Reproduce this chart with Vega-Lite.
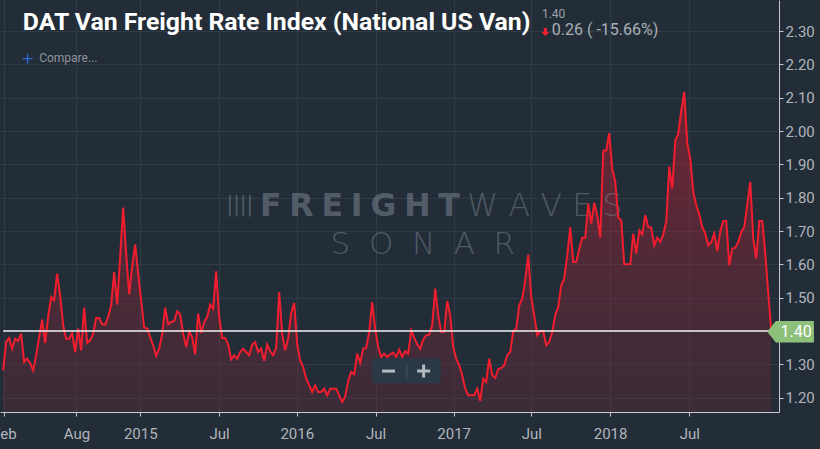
{
  "$schema": "https://vega.github.io/schema/vega-lite/v6.json",
  "autosize": {"type": "none"},
  "padding": {"left": 0, "top": 0, "right": 41, "bottom": 37},
  "width": 779,
  "height": 412,
  "background": "#232d38",
  "config": {"view": {"stroke": null}},
  "datasets": {
    "rates": [
      {"date":"2014-02-15","rate":1.282},{"date":"2014-02-22","rate":1.367},{"date":"2014-03-01","rate":1.379},{"date":"2014-03-08","rate":1.347},{"date":"2014-03-15","rate":1.377},{"date":"2014-03-22","rate":1.370},{"date":"2014-03-29","rate":1.392},{"date":"2014-04-05","rate":1.307},{"date":"2014-04-12","rate":1.317},{"date":"2014-04-19","rate":1.304},{"date":"2014-04-26","rate":1.282},{"date":"2014-05-03","rate":1.327},{"date":"2014-05-10","rate":1.382},{"date":"2014-05-17","rate":1.434},{"date":"2014-05-24","rate":1.364},{"date":"2014-05-31","rate":1.442},{"date":"2014-06-07","rate":1.502},{"date":"2014-06-14","rate":1.492},{"date":"2014-06-21","rate":1.572},{"date":"2014-06-28","rate":1.507},{"date":"2014-07-05","rate":1.417},{"date":"2014-07-12","rate":1.377},{"date":"2014-07-19","rate":1.377},{"date":"2014-07-26","rate":1.394},{"date":"2014-08-02","rate":1.337},{"date":"2014-08-09","rate":1.407},{"date":"2014-08-16","rate":1.342},{"date":"2014-08-23","rate":1.470},{"date":"2014-08-30","rate":1.364},{"date":"2014-09-06","rate":1.372},{"date":"2014-09-13","rate":1.392},{"date":"2014-09-20","rate":1.439},{"date":"2014-09-27","rate":1.439},{"date":"2014-10-04","rate":1.420},{"date":"2014-10-11","rate":1.419},{"date":"2014-10-18","rate":1.442},{"date":"2014-10-25","rate":1.477},{"date":"2014-11-01","rate":1.577},{"date":"2014-11-08","rate":1.479},{"date":"2014-11-15","rate":1.622},{"date":"2014-11-22","rate":1.770},{"date":"2014-11-29","rate":1.632},{"date":"2014-12-06","rate":1.510},{"date":"2014-12-13","rate":1.592},{"date":"2014-12-20","rate":1.660},{"date":"2014-12-27","rate":1.572},
      {"date":"2015-01-03","rate":1.492},{"date":"2015-01-10","rate":1.410},{"date":"2015-01-17","rate":1.408},{"date":"2015-01-24","rate":1.382},{"date":"2015-01-31","rate":1.357},{"date":"2015-02-07","rate":1.325},{"date":"2015-02-14","rate":1.347},{"date":"2015-02-21","rate":1.390},{"date":"2015-02-28","rate":1.470},{"date":"2015-03-07","rate":1.420},{"date":"2015-03-14","rate":1.427},{"date":"2015-03-21","rate":1.430},{"date":"2015-03-28","rate":1.459},{"date":"2015-04-04","rate":1.450},{"date":"2015-04-11","rate":1.392},{"date":"2015-04-18","rate":1.352},{"date":"2015-04-25","rate":1.399},{"date":"2015-05-02","rate":1.382},{"date":"2015-05-09","rate":1.330},{"date":"2015-05-16","rate":1.452},{"date":"2015-05-23","rate":1.394},{"date":"2015-05-30","rate":1.427},{"date":"2015-06-06","rate":1.442},{"date":"2015-06-13","rate":1.479},{"date":"2015-06-20","rate":1.467},{"date":"2015-06-27","rate":1.579},{"date":"2015-07-04","rate":1.442},{"date":"2015-07-11","rate":1.379},{"date":"2015-07-18","rate":1.379},{"date":"2015-07-25","rate":1.360},{"date":"2015-08-01","rate":1.315},{"date":"2015-08-08","rate":1.327},{"date":"2015-08-15","rate":1.317},{"date":"2015-08-22","rate":1.337},{"date":"2015-08-29","rate":1.347},{"date":"2015-09-05","rate":1.337},{"date":"2015-09-12","rate":1.327},{"date":"2015-09-19","rate":1.359},{"date":"2015-09-26","rate":1.367},{"date":"2015-10-03","rate":1.337},{"date":"2015-10-10","rate":1.347},{"date":"2015-10-17","rate":1.310},{"date":"2015-10-24","rate":1.360},{"date":"2015-10-31","rate":1.339},{"date":"2015-11-07","rate":1.327},{"date":"2015-11-14","rate":1.350},{"date":"2015-11-21","rate":1.517},{"date":"2015-11-28","rate":1.392},{"date":"2015-12-05","rate":1.342},{"date":"2015-12-12","rate":1.377},{"date":"2015-12-19","rate":1.454},{"date":"2015-12-26","rate":1.484},
      {"date":"2016-01-02","rate":1.360},{"date":"2016-01-09","rate":1.312},{"date":"2016-01-16","rate":1.292},{"date":"2016-01-23","rate":1.257},{"date":"2016-01-30","rate":1.237},{"date":"2016-02-06","rate":1.217},{"date":"2016-02-13","rate":1.237},{"date":"2016-02-20","rate":1.217},{"date":"2016-02-27","rate":1.217},{"date":"2016-03-05","rate":1.227},{"date":"2016-03-12","rate":1.207},{"date":"2016-03-19","rate":1.227},{"date":"2016-03-26","rate":1.227},{"date":"2016-04-02","rate":1.227},{"date":"2016-04-09","rate":1.207},{"date":"2016-04-16","rate":1.187},{"date":"2016-04-23","rate":1.204},{"date":"2016-04-30","rate":1.250},{"date":"2016-05-07","rate":1.277},{"date":"2016-05-14","rate":1.270},{"date":"2016-05-21","rate":1.332},{"date":"2016-05-28","rate":1.304},{"date":"2016-06-04","rate":1.347},{"date":"2016-06-11","rate":1.349},{"date":"2016-06-18","rate":1.397},{"date":"2016-06-25","rate":1.487},{"date":"2016-07-02","rate":1.407},{"date":"2016-07-09","rate":1.352},{"date":"2016-07-16","rate":1.322},{"date":"2016-07-23","rate":1.332},{"date":"2016-07-30","rate":1.322},{"date":"2016-08-06","rate":1.330},{"date":"2016-08-13","rate":1.335},{"date":"2016-08-20","rate":1.322},{"date":"2016-08-27","rate":1.344},{"date":"2016-09-03","rate":1.322},{"date":"2016-09-10","rate":1.340},{"date":"2016-09-17","rate":1.332},{"date":"2016-09-24","rate":1.402},{"date":"2016-10-01","rate":1.380},{"date":"2016-10-08","rate":1.360},{"date":"2016-10-15","rate":1.347},{"date":"2016-10-22","rate":1.374},{"date":"2016-10-29","rate":1.387},{"date":"2016-11-05","rate":1.389},{"date":"2016-11-12","rate":1.417},{"date":"2016-11-19","rate":1.527},{"date":"2016-11-26","rate":1.447},{"date":"2016-12-03","rate":1.397},{"date":"2016-12-10","rate":1.397},{"date":"2016-12-17","rate":1.490},{"date":"2016-12-24","rate":1.447},{"date":"2016-12-31","rate":1.352},
      {"date":"2017-01-07","rate":1.317},{"date":"2017-01-14","rate":1.297},{"date":"2017-01-21","rate":1.267},{"date":"2017-01-28","rate":1.227},{"date":"2017-02-04","rate":1.207},{"date":"2017-02-11","rate":1.207},{"date":"2017-02-18","rate":1.207},{"date":"2017-02-25","rate":1.227},{"date":"2017-03-04","rate":1.190},{"date":"2017-03-11","rate":1.257},{"date":"2017-03-18","rate":1.247},{"date":"2017-03-25","rate":1.317},{"date":"2017-04-01","rate":1.267},{"date":"2017-04-08","rate":1.259},{"date":"2017-04-15","rate":1.286},{"date":"2017-04-22","rate":1.289},{"date":"2017-04-29","rate":1.297},{"date":"2017-05-06","rate":1.327},{"date":"2017-05-13","rate":1.337},{"date":"2017-05-20","rate":1.400},{"date":"2017-05-27","rate":1.407},{"date":"2017-06-03","rate":1.477},{"date":"2017-06-10","rate":1.497},{"date":"2017-06-17","rate":1.552},{"date":"2017-06-24","rate":1.629},{"date":"2017-07-01","rate":1.502},{"date":"2017-07-08","rate":1.447},{"date":"2017-07-15","rate":1.387},{"date":"2017-07-22","rate":1.400},{"date":"2017-07-29","rate":1.400},{"date":"2017-08-05","rate":1.357},{"date":"2017-08-12","rate":1.367},{"date":"2017-08-19","rate":1.397},{"date":"2017-08-26","rate":1.447},{"date":"2017-09-02","rate":1.472},{"date":"2017-09-09","rate":1.537},{"date":"2017-09-16","rate":1.557},{"date":"2017-09-23","rate":1.627},{"date":"2017-09-30","rate":1.712},{"date":"2017-10-07","rate":1.607},{"date":"2017-10-14","rate":1.607},{"date":"2017-10-21","rate":1.647},{"date":"2017-10-28","rate":1.680},{"date":"2017-11-04","rate":1.680},{"date":"2017-11-11","rate":1.782},{"date":"2017-11-18","rate":1.722},{"date":"2017-11-25","rate":1.784},{"date":"2017-12-02","rate":1.747},{"date":"2017-12-09","rate":1.680},{"date":"2017-12-16","rate":1.940},{"date":"2017-12-23","rate":1.942},{"date":"2017-12-30","rate":1.994},
      {"date":"2018-01-06","rate":1.887},{"date":"2018-01-13","rate":1.847},{"date":"2018-01-20","rate":1.740},{"date":"2018-01-27","rate":1.732},{"date":"2018-02-03","rate":1.600},{"date":"2018-02-10","rate":1.600},{"date":"2018-02-17","rate":1.600},{"date":"2018-02-24","rate":1.692},{"date":"2018-03-03","rate":1.632},{"date":"2018-03-10","rate":1.702},{"date":"2018-03-17","rate":1.690},{"date":"2018-03-24","rate":1.747},{"date":"2018-03-31","rate":1.712},{"date":"2018-04-07","rate":1.710},{"date":"2018-04-14","rate":1.657},{"date":"2018-04-21","rate":1.680},{"date":"2018-04-28","rate":1.667},{"date":"2018-05-05","rate":1.690},{"date":"2018-05-12","rate":1.730},{"date":"2018-05-19","rate":1.894},{"date":"2018-05-26","rate":1.827},{"date":"2018-06-02","rate":1.972},{"date":"2018-06-09","rate":1.992},{"date":"2018-06-16","rate":2.062},{"date":"2018-06-23","rate":2.117},{"date":"2018-06-30","rate":1.962},{"date":"2018-07-07","rate":1.917},{"date":"2018-07-14","rate":1.817},{"date":"2018-07-21","rate":1.777},{"date":"2018-07-28","rate":1.750},{"date":"2018-08-04","rate":1.712},{"date":"2018-08-11","rate":1.692},{"date":"2018-08-18","rate":1.657},{"date":"2018-08-25","rate":1.667},{"date":"2018-09-01","rate":1.692},{"date":"2018-09-08","rate":1.640},{"date":"2018-09-15","rate":1.700},{"date":"2018-09-22","rate":1.730},{"date":"2018-09-29","rate":1.730},{"date":"2018-10-06","rate":1.597},{"date":"2018-10-13","rate":1.647},{"date":"2018-10-20","rate":1.650},{"date":"2018-10-27","rate":1.667},{"date":"2018-11-03","rate":1.697},{"date":"2018-11-10","rate":1.712},{"date":"2018-11-17","rate":1.780},{"date":"2018-11-24","rate":1.847},{"date":"2018-12-01","rate":1.677},{"date":"2018-12-08","rate":1.617},{"date":"2018-12-15","rate":1.730},{"date":"2018-12-22","rate":1.730},{"date":"2018-12-29","rate":1.632},
      {"date":"2019-01-05","rate":1.512},{"date":"2019-01-12","rate":1.400}
    ]
  },
  "layer": [
    {
      "data": {"name": "rates"},
      "mark": {
        "type": "area",
        "color": {
          "gradient": "linear", "x1": 0, "y1": 0, "x2": 0, "y2": 1,
          "stops": [
            {"offset": 0, "color": "rgba(190,28,48,0.5)"},
            {"offset": 1, "color": "rgba(120,40,55,0.28)"}
          ]
        }
      },
      "encoding": {
        "x": {
          "field": "date", "type": "temporal",
          "scale": {
            "type": "utc",
            "domain": [
              {"year": 2014, "month": 2, "date": 7, "hours": 17, "utc": true},
              {"year": 2019, "month": 1, "date": 30, "utc": true}
            ]
          },
          "axis": {
            "title": null,
            "values": [
              {"year": 2014, "month": 2, "date": 17, "utc": true},
              {"year": 2014, "month": 8, "date": 5, "utc": true},
              {"year": 2015, "month": 1, "date": 1, "utc": true},
              {"year": 2015, "month": 7, "date": 4, "utc": true},
              {"year": 2016, "month": 1, "date": 1, "utc": true},
              {"year": 2016, "month": 7, "date": 3, "utc": true},
              {"year": 2017, "month": 1, "date": 1, "utc": true},
              {"year": 2017, "month": 7, "date": 1, "utc": true},
              {"year": 2018, "month": 1, "date": 1, "utc": true},
              {"year": 2018, "month": 7, "date": 5, "utc": true}
            ],
            "labelExpr": "utcFormat(datum.value, '%m') == '01' ? utcFormat(datum.value, '%Y') : utcFormat(datum.value, '%b')",
            "labelFlush": false,
            "labelOverlap": false,
            "labelFont": "Roboto",
            "labelFontSize": 15,
            "labelColor": "#b0b5bb",
            "labelPadding": 10,
            "tickSize": 4,
            "tickColor": "#c5c9cd",
            "domainColor": "#c5c9cd",
            "gridColor": "#2f3b47",
            "grid": true
          }
        },
        "y": {
          "field": "rate", "type": "quantitative",
          "scale": {"domain": [1.157, 2.393], "nice": false, "zero": false},
          "axis": {
            "title": null,
            "orient": "right",
            "values": [1.2, 1.3, 1.5, 1.6, 1.7, 1.8, 1.9, 2.0, 2.1, 2.2, 2.3],
            "format": ".2f",
            "labelFlush": false,
            "labelOverlap": false,
            "labelFont": "Roboto",
            "labelFontSize": 15,
            "labelColor": "#b0b5bb",
            "labelPadding": 2,
            "tickSize": 4,
            "tickColor": "#c5c9cd",
            "domainColor": "#c5c9cd",
            "gridColor": "#2f3b47",
            "grid": true
          }
        },
        "y2": {"datum": 1.157}
      }
    },
    {
      "data": {"values": [{}]},
      "mark": {"type": "text", "text": "||||", "font": "DejaVu Sans Condensed", "fontSize": 22, "color": "#8c96a0", "opacity": 0.42, "align": "left", "baseline": "alphabetic"},
      "encoding": {
        "x": {"datum": {"year": 2015, "month": 7, "date": 21, "utc": true}, "type": "temporal"},
        "y": {"datum": 1.759, "type": "quantitative", "axis": {"orient": "right"}}
      }
    },
    {
      "data": {"values": [{}]},
      "mark": {"type": "text", "text": "F\u2005R\u2005E\u2005I\u2005G\u2005H\u2005T", "font": "DejaVu Sans", "fontWeight": "bold", "fontSize": 31.5, "color": "#8c96a0", "opacity": 0.45, "align": "left", "baseline": "alphabetic"},
      "encoding": {
        "x": {"datum": {"year": 2015, "month": 10, "date": 7, "utc": true}, "type": "temporal"},
        "y": {"datum": 1.744, "type": "quantitative", "axis": {"orient": "right"}}
      }
    },
    {
      "data": {"values": [{}]},
      "mark": {"type": "text", "text": "W\u2004A\u2004V\u2004E\u2004S", "font": "DejaVu Sans", "fontWeight": 200, "fontSize": 31.5, "color": "#8c96a0", "opacity": 0.42, "align": "left", "baseline": "alphabetic"},
      "encoding": {
        "x": {"datum": {"year": 2017, "month": 2, "date": 1, "utc": true}, "type": "temporal"},
        "y": {"datum": 1.744, "type": "quantitative", "axis": {"orient": "right"}}
      }
    },
    {
      "data": {"values": [{}]},
      "mark": {"type": "text", "text": "S\u2002\u200aO\u2002\u200aN\u2002\u200aA\u2002\u200aR", "font": "DejaVu Sans", "fontWeight": 200, "fontSize": 31, "color": "#8c96a0", "opacity": 0.42, "align": "left", "baseline": "alphabetic"},
      "encoding": {
        "x": {"datum": {"year": 2016, "month": 3, "date": 20, "utc": true}, "type": "temporal"},
        "y": {"datum": 1.630, "type": "quantitative", "axis": {"orient": "right"}}
      }
    },
    {
      "data": {"name": "rates"},
      "mark": {"type": "line", "color": "#f21d2e", "strokeWidth": 2},
      "encoding": {
        "x": {"field": "date", "type": "temporal"},
        "y": {"field": "rate", "type": "quantitative", "axis": {"orient": "right"}}
      }
    },
    {
      "data": {"values": [{}]},
      "mark": {"type": "rule", "color": "#f4f4f4", "strokeWidth": 1.5},
      "encoding": {
        "x": {"datum": {"year": 2014, "month": 2, "date": 15, "utc": true}, "type": "temporal"},
        "x2": {"datum": {"year": 2019, "month": 1, "date": 12, "utc": true}},
        "y": {"datum": 1.40, "type": "quantitative", "axis": {"orient": "right"}}
      }
    },
    {
      "data": {"values": [{}]},
      "mark": {"type": "rect", "color": "#2b3846", "cornerRadius": 4},
      "encoding": {
        "x": {"datum": {"year": 2016, "month": 6, "date": 24, "utc": true}, "type": "temporal"},
        "x2": {"datum": {"year": 2016, "month": 12, "date": 2, "utc": true}},
        "y": {"datum": 1.318, "type": "quantitative", "axis": {"orient": "right"}},
        "y2": {"datum": 1.243}
      }
    },
    {
      "data": {"values": [{}]},
      "mark": {"type": "rule", "color": "#46525f", "strokeWidth": 1},
      "encoding": {
        "x": {"datum": {"year": 2016, "month": 9, "date": 14, "utc": true}, "type": "temporal"},
        "y": {"datum": 1.303, "type": "quantitative", "axis": {"orient": "right"}},
        "y2": {"datum": 1.258}
      }
    },
    {
      "data": {"values": [{}]},
      "mark": {"type": "point", "shape": "M-1,-0.23H1V0.23H-1Z", "filled": true, "size": 169, "color": "#b4bac0", "opacity": 1, "strokeWidth": 0},
      "encoding": {
        "x": {"datum": {"year": 2016, "month": 8, "date": 2, "utc": true}, "type": "temporal"},
        "y": {"datum": 1.2797, "type": "quantitative", "axis": {"orient": "right"}}
      }
    },
    {
      "data": {"values": [{}]},
      "mark": {"type": "point", "shape": "M-1,-0.23H1V0.23H-1Z M-0.23,-1H0.23V1H-0.23Z", "filled": true, "size": 169, "color": "#b4bac0", "opacity": 1, "strokeWidth": 0},
      "encoding": {
        "x": {"datum": {"year": 2016, "month": 10, "date": 23, "utc": true}, "type": "temporal"},
        "y": {"datum": 1.2797, "type": "quantitative", "axis": {"orient": "right"}}
      }
    },
    {
      "data": {"values": [{}]},
      "mark": {"type": "text", "text": "DAT Van Freight Rate Index (National US Van)", "font": "Roboto", "fontWeight": "bold", "fontSize": 24.8, "color": "#ffffff", "align": "left", "baseline": "alphabetic"},
      "encoding": {
        "x": {"datum": {"year": 2014, "month": 4, "date": 2, "utc": true}, "type": "temporal"},
        "y": {"datum": 2.3036, "type": "quantitative", "axis": {"orient": "right"}}
      }
    },
    {
      "data": {"values": [{}]},
      "mark": {"type": "text", "text": "1.40", "font": "Roboto", "fontSize": 12, "color": "#9ba2a9", "align": "left", "baseline": "alphabetic"},
      "encoding": {
        "x": {"datum": {"year": 2017, "month": 7, "date": 26, "utc": true}, "type": "temporal"},
        "y": {"datum": 2.340, "type": "quantitative", "axis": {"orient": "right"}}
      }
    },
    {
      "data": {"values": [{}]},
      "mark": {"type": "point", "shape": "M-0.4,-1L0.4,-1L0.4,0L1,0L0,1L-1,0L-0.4,0Z", "filled": true, "size": 64, "color": "#f2202f", "opacity": 1, "strokeWidth": 0},
      "encoding": {
        "x": {"datum": {"year": 2017, "month": 8, "date": 3, "utc": true}, "type": "temporal"},
        "y": {"datum": 2.297, "type": "quantitative", "axis": {"orient": "right"}}
      }
    },
    {
      "data": {"values": [{}]},
      "mark": {"type": "text", "text": "0.26 ( -15.66%)", "font": "Roboto", "fontSize": 16, "color": "#a9b0b6", "align": "left", "baseline": "alphabetic"},
      "encoding": {
        "x": {"datum": {"year": 2017, "month": 8, "date": 18, "utc": true}, "type": "temporal"},
        "y": {"datum": 2.287, "type": "quantitative", "axis": {"orient": "right"}}
      }
    },
    {
      "data": {"values": [{}]},
      "mark": {"type": "point", "shape": "M-1,-0.13H1V0.13H-1Z M-0.13,-1H0.13V1H-0.13Z", "filled": true, "size": 100, "color": "#2f6bd6", "opacity": 1, "strokeWidth": 0},
      "encoding": {
        "x": {"datum": {"year": 2014, "month": 4, "date": 13, "utc": true}, "type": "temporal"},
        "y": {"datum": 2.217, "type": "quantitative", "axis": {"orient": "right"}}
      }
    },
    {
      "data": {"values": [{}]},
      "mark": {"type": "text", "text": "Compare...", "font": "Roboto", "fontSize": 12, "color": "#8d949b", "align": "left", "baseline": "alphabetic"},
      "encoding": {
        "x": {"datum": {"year": 2014, "month": 5, "date": 10, "utc": true}, "type": "temporal"},
        "y": {"datum": 2.206, "type": "quantitative", "axis": {"orient": "right"}}
      }
    },
    {
      "data": {"values": [{}]},
      "mark": {"type": "point", "shape": "M-1,0L-0.63,-0.46L1,-0.46L1,0.46L-0.63,0.46Z", "filled": true, "size": 2181, "color": "#8dc07a", "opacity": 1, "strokeWidth": 0},
      "encoding": {
        "x": {"datum": {"year": 2019, "month": 2, "date": 26, "utc": true}, "type": "temporal"},
        "y": {"datum": 1.3976, "type": "quantitative", "axis": {"orient": "right"}}
      }
    },
    {
      "data": {"values": [{}]},
      "mark": {"type": "text", "text": "1.40", "font": "Roboto", "fontSize": 16, "color": "#ffffff", "align": "center", "baseline": "middle"},
      "encoding": {
        "x": {"datum": {"year": 2019, "month": 3, "date": 11, "utc": true}, "type": "temporal"},
        "y": {"datum": 1.3985, "type": "quantitative", "axis": {"orient": "right"}}
      }
    }
  ]
}
